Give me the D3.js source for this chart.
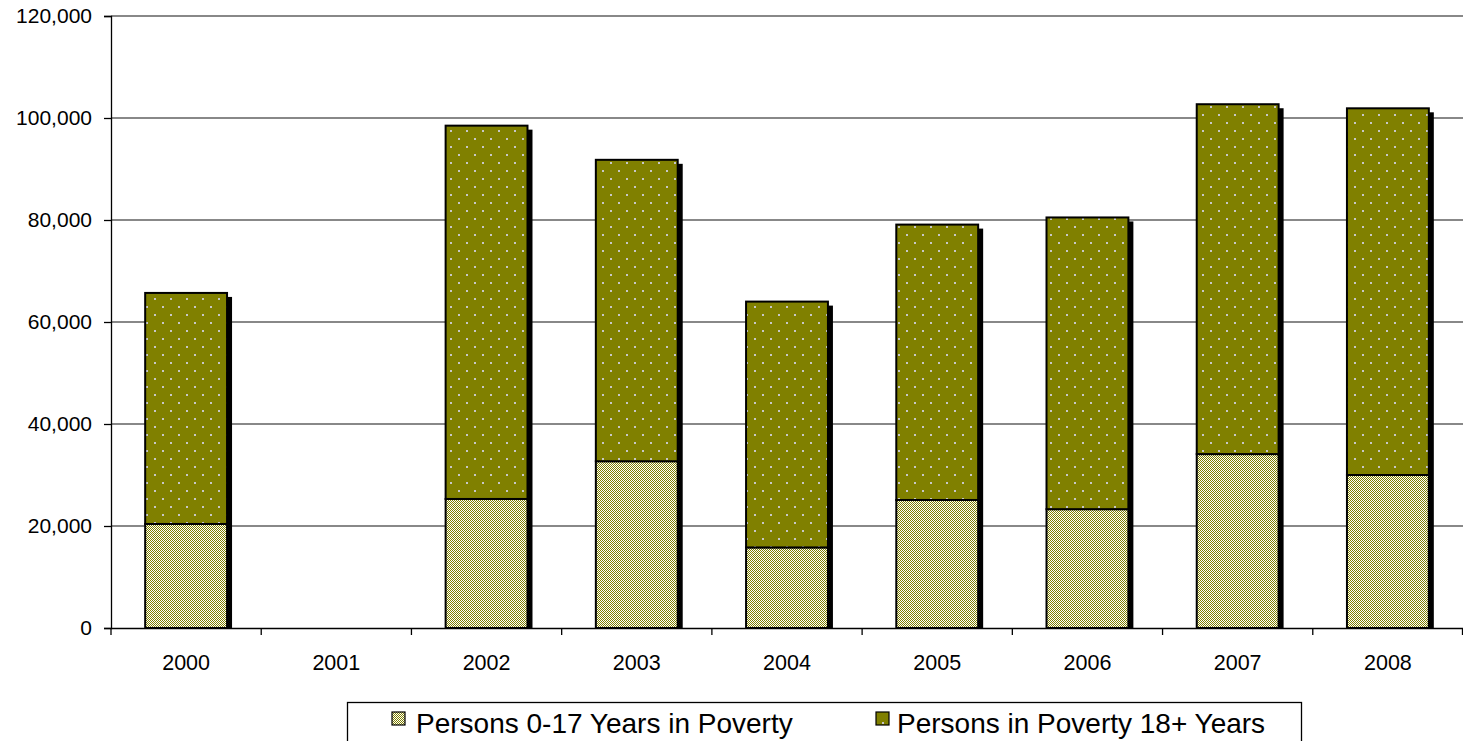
<!DOCTYPE html>
<html>
<head>
<meta charset="utf-8">
<script src="https://cdn.jsdelivr.net/npm/d3@7"></script>
<style>
  html, body { margin: 0; padding: 0; background: #fff; }
  svg { display: block; font-family: "Liberation Sans", Arial, sans-serif; }
</style>
</head>
<body>
<svg id="chart" width="1463" height="741"></svg>
<script>
const years = ["2000", "2001", "2002", "2003", "2004", "2005", "2006", "2007", "2008"];
const children = [20400, null, 25300, 32700, 15800, 25100, 23300, 34100, 30000];
const adults = [45300, null, 73200, 59100, 48200, 54000, 57200, 68600, 71900];
const yTicks = [0, 20000, 40000, 60000, 80000, 100000, 120000];
const seriesNames = ["Persons 0-17 Years in Poverty", "Persons in Poverty 18+ Years"];

(function () {
const svg = d3.select("#chart");
const mLeft = 111, mRight = 1463, mTop = 16, mBottom = 628;

const x = d3.scaleBand().domain(years).range([mLeft, mRight]).padding(0);
const y = d3.scaleLinear().domain([0, 120000]).range([mBottom, mTop]);
const barW = x.bandwidth() * 0.545;

// patterns
const defs = svg.append("defs");
const chk = defs.append("pattern").attr("id", "checker").attr("patternUnits", "userSpaceOnUse")
  .attr("width", 2).attr("height", 2);
chk.append("rect").attr("width", 2).attr("height", 2).attr("fill", "#ffffff");
chk.append("rect").attr("x", 0).attr("y", 0).attr("width", 1).attr("height", 1).attr("fill", "#808000");
chk.append("rect").attr("x", 1).attr("y", 1).attr("width", 1).attr("height", 1).attr("fill", "#808000");

const dots = defs.append("pattern").attr("id", "dots").attr("patternUnits", "userSpaceOnUse")
  .attr("width", 16).attr("height", 16);
dots.append("rect").attr("width", 16).attr("height", 16).attr("fill", "#808000");
dots.append("rect").attr("x", 2).attr("y", 2).attr("width", 2).attr("height", 2).attr("fill", "#c8c8c8");
dots.append("rect").attr("x", 10).attr("y", 10).attr("width", 2).attr("height", 2).attr("fill", "#c8c8c8");

// gridlines
svg.append("g").selectAll("line").data(yTicks.filter(d => d > 0)).join("line")
  .attr("x1", mLeft).attr("x2", mRight)
  .attr("y1", d => y(d)).attr("y2", d => y(d))
  .attr("stroke", "#606060").attr("stroke-width", 1.4);

// data rows
const rows = years.map((yr, i) => ({ yr, c: children[i], a: adults[i] })).filter(d => d.c != null);

const gBars = svg.append("g");
// shadows
gBars.selectAll("rect.shadow").data(rows).join("rect")
  .attr("class", "shadow")
  .attr("x", d => x(d.yr) + (x.bandwidth() - barW) / 2 + 5)
  .attr("y", d => y(d.c + d.a) + 4)
  .attr("width", barW)
  .attr("height", d => mBottom - (y(d.c + d.a) + 4))
  .attr("fill", "#000");
// children segment
gBars.selectAll("rect.child").data(rows).join("rect")
  .attr("class", "child")
  .attr("x", d => x(d.yr) + (x.bandwidth() - barW) / 2)
  .attr("y", d => y(d.c))
  .attr("width", barW)
  .attr("height", d => y(0) - y(d.c))
  .attr("fill", "url(#checker)")
  .attr("stroke", "#000").attr("stroke-width", 2);
// adult segment
gBars.selectAll("rect.adult").data(rows).join("rect")
  .attr("class", "adult")
  .attr("x", d => x(d.yr) + (x.bandwidth() - barW) / 2)
  .attr("y", d => y(d.c + d.a))
  .attr("width", barW)
  .attr("height", d => y(d.c) - y(d.c + d.a))
  .attr("fill", "url(#dots)")
  .attr("stroke", "#000").attr("stroke-width", 2);

// y axis
const yAxis = d3.axisLeft(y).tickValues(yTicks).tickSize(7).tickPadding(12)
  .tickFormat(d3.format(","));
const gy = svg.append("g").attr("transform", `translate(${mLeft},0)`).call(yAxis);
gy.select(".domain").attr("stroke", "#000").attr("stroke-width", 1.3);
gy.selectAll(".tick line").attr("stroke", "#000").attr("stroke-width", 1.3);
gy.selectAll(".tick text").attr("fill", "#000").style("font-size", "21px")
  .style("font-family", "'Liberation Sans', Arial, sans-serif");

// x axis
const xAxis = d3.axisBottom(x).tickSize(0).tickPadding(27);
const gx = svg.append("g").attr("transform", `translate(0,${mBottom})`).call(xAxis);
gx.select(".domain").attr("stroke", "#000").attr("stroke-width", 1.3);
gx.selectAll(".tick text").attr("fill", "#000").style("font-size", "21.5px")
  .style("font-family", "'Liberation Sans', Arial, sans-serif");
// category boundary ticks
gx.append("g").selectAll("line").data(years.concat(["_end"])).join("line")
  .attr("x1", (d, i) => i < years.length ? x(d) : mRight - 0.5)
  .attr("x2", (d, i) => i < years.length ? x(d) : mRight - 0.5)
  .attr("y1", 0).attr("y2", 7)
  .attr("stroke", "#000").attr("stroke-width", 1.3);

// legend
const lg = svg.append("g");
lg.append("rect").attr("x", 347.5).attr("y", 702.5).attr("width", 954).attr("height", 60)
  .attr("fill", "#fff").attr("stroke", "#000").attr("stroke-width", 1.3);
const legendItems = [
  { name: seriesNames[0], fill: "url(#checker)", mx: 392, tx: 416 },
  { name: seriesNames[1], fill: "url(#dots)", mx: 876, tx: 897 }
];
legendItems.forEach(it => {
  lg.append("rect").attr("x", it.mx).attr("y", 712).attr("width", 13).attr("height", 13)
    .attr("fill", it.fill).attr("stroke", "#000").attr("stroke-width", 1.2);
  lg.append("text").attr("x", it.tx).attr("y", 733).text(it.name)
    .style("font-size", "28px").attr("fill", "#000");
});
})();
</script>
</body>
</html>
